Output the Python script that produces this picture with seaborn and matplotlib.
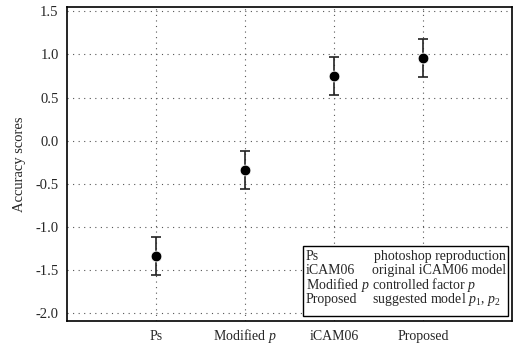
import matplotlib
matplotlib.use("Agg")
import matplotlib.pyplot as plt
import seaborn as sns
from matplotlib.patches import Rectangle

methods = ["Ps", "Modified $p$", "iCAM06", "Proposed"]
scores = [-1.34, -0.34, 0.75, 0.96]
errors = [0.22, 0.22, 0.22, 0.22]
yticks = [-2.0, -1.5, -1.0, -0.5, 0.0, 0.5, 1.0, 1.5]
legend_keys = ["Ps", "iCAM06", "Modified $p$", "Proposed"]
legend_desc = ["photoshop reproduction", "original iCAM06 model",
               "controlled factor $p$", "suggested model $p_1$, $p_2$"]

sns.set_style("white")
plt.rcParams["font.family"] = ["Liberation Serif", "DejaVu Serif"]
plt.rcParams["mathtext.fontset"] = "custom"
plt.rcParams["mathtext.rm"] = "Liberation Serif"
plt.rcParams["mathtext.it"] = "Liberation Serif:italic"

fig = plt.figure(figsize=(5.15, 3.48), dpi=100)
ax = fig.add_axes([67 / 515, 1 - 321 / 348, 445 / 515, 314 / 348])

sns.scatterplot(x=methods, y=scores, color="black", s=60, zorder=3, ax=ax)
ax.errorbar(methods, scores, yerr=errors, fmt="none", ecolor="#222222",
            elinewidth=1.2, capsize=3.5, capthick=1.2, zorder=2)

ax.set_xlim(-1, 4)
ax.set_ylim(-2.09, 1.55)
ax.set_yticks(yticks)
ax.set_yticklabels([f"{v:.1f}" for v in yticks])
ax.grid(True, linestyle=(0, (1, 4)), color="#555555", linewidth=0.8)
ax.tick_params(axis="y", length=0, labelsize=10.5, pad=6)
ax.tick_params(axis="x", length=0, labelsize=10, pad=14)
for lab in ax.get_xticklabels():
    lab.set_verticalalignment("baseline")
for s in ax.spines.values():
    s.set_color("black")
    s.set_linewidth(1.2)
ax.set_ylabel("Accuracy scores", fontsize=10.5)
ax.yaxis.set_label_coords(-0.092, 0.5)

ax.add_patch(Rectangle((0.530, 0.016), 0.461, 0.223, transform=ax.transAxes,
                       facecolor="white", edgecolor="black", linewidth=1.0,
                       zorder=4))
rows_y = [0.207, 0.160, 0.115, 0.070]
for i, (k, d) in enumerate(zip(legend_keys, legend_desc)):
    ax.text(0.536, rows_y[i], k, transform=ax.transAxes, fontsize=10,
            va="center", ha="left", zorder=5)
    if i == 0:
        ax.text(0.987, rows_y[i], d, transform=ax.transAxes, fontsize=10,
                va="center", ha="right", zorder=5)
    else:
        ax.text(0.685, rows_y[i], d, transform=ax.transAxes, fontsize=10,
                va="center", ha="left", zorder=5)

fig.savefig("out.png", dpi=100)
